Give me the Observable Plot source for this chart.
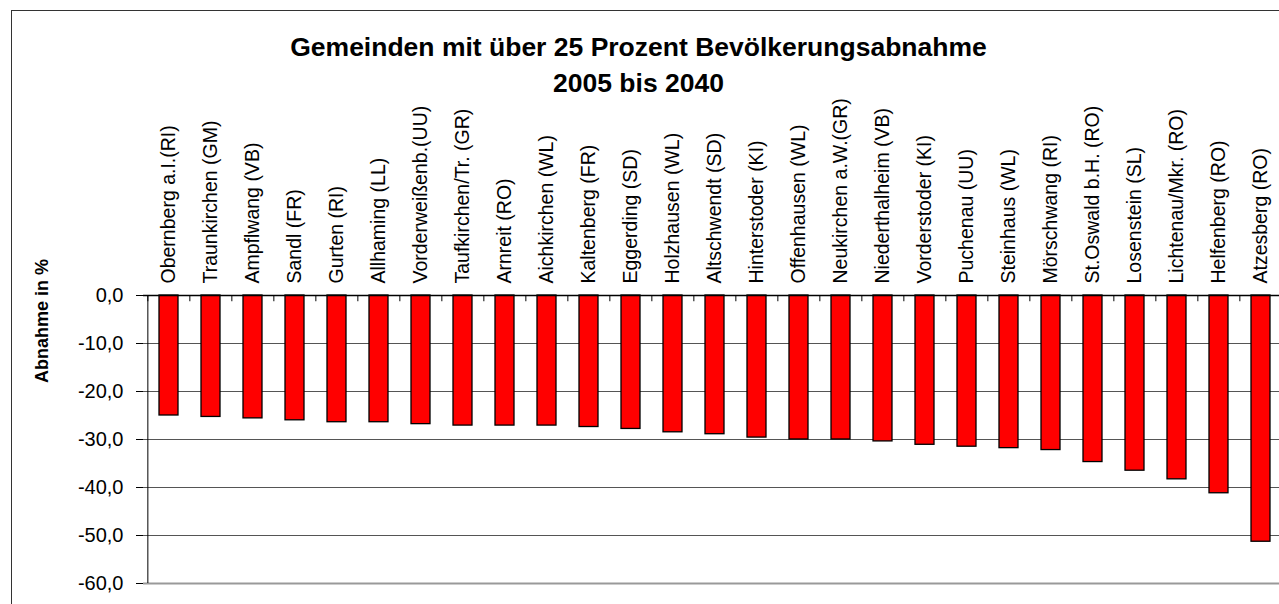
<!DOCTYPE html>
<html><head><meta charset="utf-8">
<script src="https://cdn.jsdelivr.net/npm/d3@7"></script>
<script src="https://cdn.jsdelivr.net/npm/@observablehq/plot@0.6"></script>
<style>
html,body{margin:0;padding:0;background:#fff;overflow:hidden;width:1279px;height:604px;}
#wrap{position:relative;width:1279px;height:604px;overflow:hidden;font-family:"Liberation Sans",Arial,sans-serif;color:#000;}
#frame{position:absolute;left:11px;top:10px;width:1400px;height:700px;border-left:1.5px solid #333;border-top:1.5px solid #333;box-sizing:border-box;}
#title{position:absolute;left:0;width:1277px;top:29px;text-align:center;font-weight:bold;font-size:26.5px;line-height:36px;}
#ylab{position:absolute;left:42px;top:321px;transform:translate(-50%,-50%) rotate(-90deg);font-weight:bold;font-size:18px;line-height:18px;white-space:nowrap;}
#chart{position:absolute;left:0;top:0;width:1290px;height:620px;}
#chart svg{max-width:none !important;width:1290px;height:620px;}
</style>
</head><body>
<div id="wrap">
  <div id="frame"></div>
  <div id="chart"></div>
  <div id="title">Gemeinden mit über 25 Prozent Bevölkerungsabnahme<br>2005 bis 2040</div>
  <div id="ylab">Abnahme in %</div>
</div>
<script>
const names = ["Obernberg a.I.(RI)","Traunkirchen (GM)","Ampflwang (VB)","Sandl (FR)","Gurten (RI)","Allhaming (LL)","Vorderweißenb.(UU)","Taufkirchen/Tr. (GR)","Arnreit (RO)","Aichkirchen (WL)","Kaltenberg (FR)","Eggerding (SD)","Holzhausen (WL)","Altschwendt (SD)","Hinterstoder (KI)","Offenhausen (WL)","Neukirchen a.W.(GR)","Niederthalheim (VB)","Vorderstoder (KI)","Puchenau (UU)","Steinhaus (WL)","Mörschwang (RI)","St.Oswald b.H. (RO)","Losenstein (SL)","Lichtenau/Mkr. (RO)","Helfenberg (RO)","Atzesberg (RO)"];
const values = [-25.0,-25.3,-25.6,-26.0,-26.4,-26.4,-26.8,-27.1,-27.1,-27.1,-27.4,-27.8,-28.5,-28.9,-29.6,-30.0,-30.0,-30.4,-31.1,-31.5,-31.8,-32.2,-34.7,-36.5,-38.3,-41.2,-51.3];
const yTicks = [0,-10,-20,-30,-40,-50,-60];
const gridTicks = [-10,-20,-30,-40,-50];
const yMin = -60;

const data = names.map((n,i)=>({name:n, value:values[i]}));
const W = 1290, ML = 143, MR = 5;
const step = (W - ML - MR) / names.length;
const fmt = d => d.toFixed(1).replace(".", ",");

const chart = Plot.plot({
  width: W, height: 620,
  marginLeft: ML, marginRight: MR, marginTop: 295, marginBottom: 37,
  x: {domain: names, paddingInner: 0.55, paddingOuter: 0.275, axis: null},
  y: {domain: [yMin, 0], axis: null},
  style: {fontFamily: "'Liberation Sans', Arial, sans-serif", background: "transparent", color: "#000", overflow: "visible"},
  marks: [
    Plot.ruleY(gridTicks, {stroke: "#555", strokeWidth: 1}),
    Plot.ruleY([yMin], {stroke: "#999", strokeWidth: 2}),
    Plot.barY(data, {x: "name", y: "value", fill: "#ff0000", stroke: "#000", strokeWidth: 1.3}),
    Plot.ruleY([0], {stroke: "#000", strokeWidth: 1.3}),
    Plot.ruleX(names, {x: d => d, dx: -step/2, y1: 0, y2: -1.3, stroke: "#000"}),
    Plot.ruleX([names[0]], {x: d => d, dx: -step/2, y1: 0, y2: yMin, stroke: "#000"}),
    Plot.axisX({anchor: "top", tickSize: 0, tickPadding: 12, tickRotate: -90, fontSize: 19.5, label: null}),
    Plot.axisY({ticks: yTicks, tickSize: 7, tickPadding: 13, fontSize: 20, tickFormat: fmt, label: null})
  ]
});
document.getElementById("chart").appendChild(chart);
</script>
</body></html>
